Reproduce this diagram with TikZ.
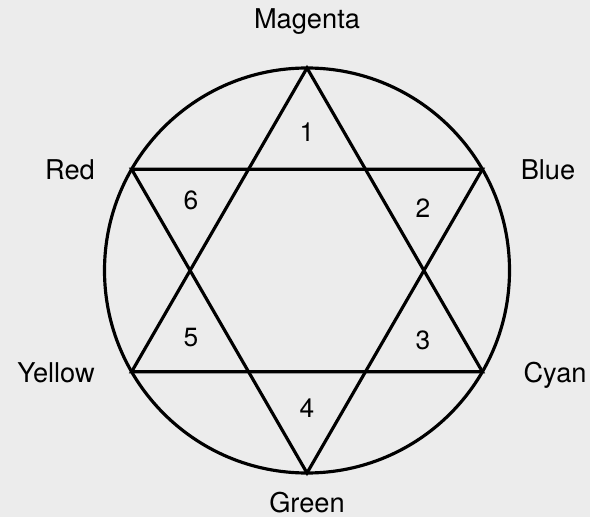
\documentclass[tikz,border=0pt]{standalone}
\usepackage{fontspec}
\setmainfont{TeX Gyre Heros}
\usetikzlibrary{positioning}
\definecolor{paper}{HTML}{ECECEC}

\begin{document}
\begin{tikzpicture}[
    x=0.02cm, y=0.02cm,
    edge/.style={line width=1.8pt, line join=miter},
    lbl/.style={font=\fontsize{15.5}{18}\selectfont, inner sep=0pt},
    num/.style={font=\fontsize{15}{18}\selectfont, inner sep=0pt}
]
    \fill[paper] (0,0) rectangle (590,517);
    \useasboundingbox (0,0) rectangle (590,517);

    % circle
    \coordinate (C) at (307,246.5);
    \draw[edge] (C) circle (202.5);

    % six points of the star
    \coordinate (M)  at ([shift={(90:202.5)}]C);  % Magenta
    \coordinate (B)  at ([shift={(30:202.5)}]C);  % Blue
    \coordinate (Cy) at ([shift={(-30:202.5)}]C); % Cyan
    \coordinate (G)  at ([shift={(-90:202.5)}]C); % Green
    \coordinate (Y)  at ([shift={(210:202.5)}]C); % Yellow
    \coordinate (R)  at ([shift={(150:202.5)}]C); % Red

    % two triangles
    \draw[edge] (M) -- (Cy) -- (Y) -- cycle;
    \draw[edge] (G) -- (B) -- (R) -- cycle;

    % colour names
    \node[lbl] (magenta) at (307,495) {Magenta};
    \node[lbl] (red)     at (70,347)  {Red};
    \node[lbl] (blue)    at (548,347) {Blue};
    \node[lbl] (yellow)  at (56,144)  {Yellow};
    \node[lbl] (cyan)    at (555,142) {Cyan};
    \node[lbl] (green)   at (307,14)  {Green};

    % numbered points
    \node[num] (n1) at (307,385) {1};
    \node[num] (n2) at (423,309) {2};
    \node[num] (n3) at (423,177) {3};
    \node[num] (n4) at (307,109) {4};
    \node[num] (n5) at (191,179) {5};
    \node[num] (n6) at (191,317) {6};
\end{tikzpicture}
\end{document}
